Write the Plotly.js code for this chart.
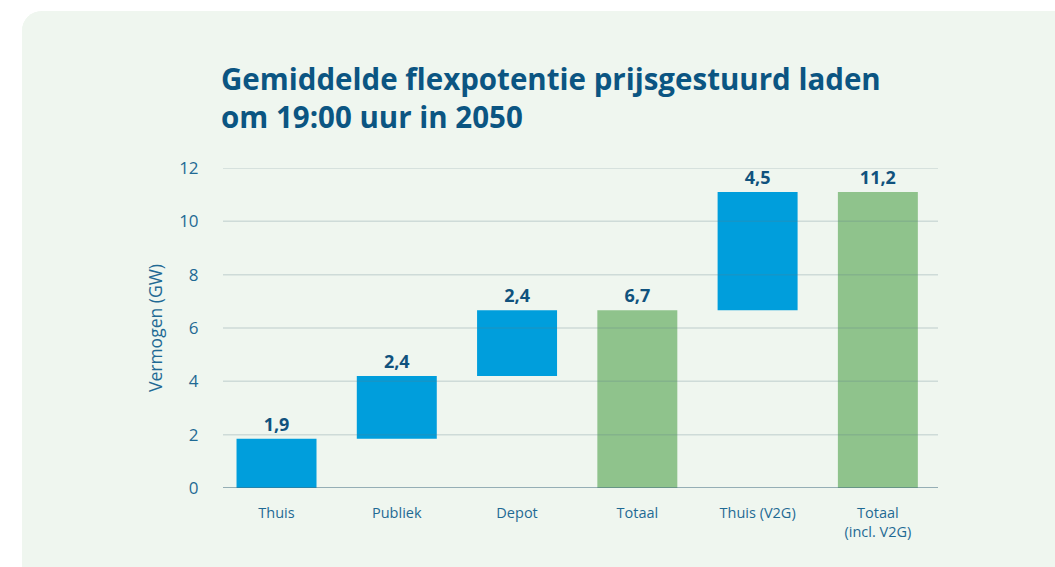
<!DOCTYPE html>
<html>
<head>
<meta charset="utf-8">
<script src="https://cdn.plot.ly/plotly-3.0.1.min.js"></script>
<style>
  html, body { margin:0; padding:0; background:#ffffff; width:1055px; height:567px; overflow:hidden; }
  #panel { position:absolute; left:22px; top:11px; width:1060px; height:580px; border-radius:20px; background:#eff6ef; overflow:hidden; }
  #chart { position:absolute; left:0; top:0; width:1033px; height:556px; }
</style>
</head>
<body>
<div id="panel"><div id="chart"></div></div>
<script>
const categories = ['Thuis', 'Publiek', 'Depot', 'Totaal', 'Thuis (V2G)', 'Totaal<br>(incl. V2G)'];
const measures = ['relative', 'relative', 'relative', 'total', 'relative', 'total'];
const values = [1.85, 2.35, 2.47, 0, 4.43, 0];
const valueLabels = ['1,9', '2,4', '2,4', '6,7', '4,5', '11,2'];
const yTicks = [0, 2, 4, 6, 8, 10, 12];

const gridShapes = yTicks.filter(v => v > 0).map(v => ({
  type: 'line', xref: 'paper', yref: 'y', x0: 0, x1: 1, y0: v, y1: v,
  layer: 'above', line: { color: 'rgba(90,125,135,0.22)', width: 1.5 }
}));
gridShapes.push({
  type: 'line', xref: 'paper', yref: 'y', x0: 0, x1: 1, y0: 0, y1: 0,
  layer: 'above', line: { color: 'rgba(70,110,130,0.7)', width: 1.5 }
});

const trace = {
  type: 'waterfall',
  x: categories,
  y: values,
  measure: measures,
  text: valueLabels,
  textposition: 'outside',
  textfont: { family: 'Open Sans, sans-serif', size: 18, color: '#10527d', weight: 700 },
  cliponaxis: false,
  connector: { visible: false },
  increasing: { marker: { color: '#009edc' } },
  decreasing: { marker: { color: '#009edc' } },
  totals: { marker: { color: '#8fc38c' } },
  hoverinfo: 'none'
};

const layout = {
  width: 1033, height: 556,
  margin: { l: 201, r: 117, t: 157, b: 79 },
  paper_bgcolor: '#eff6ef',
  plot_bgcolor: '#eff6ef',
  showlegend: false,
  waterfallgap: 0.335,
  font: { family: 'Open Sans, sans-serif', color: '#1f6a94' },
  title: {
    text: '<b>Gemiddelde flexpotentie prijsgestuurd laden<br>om 19:00 uur in 2050</b>',
    xref: 'container', yref: 'container',
    x: 199 / 1033, xanchor: 'left',
    y: 1 - 79 / 556, yanchor: 'top',
    font: { family: 'Open Sans, sans-serif', size: 29.5, color: '#0b5582' }
  },
  xaxis: {
    type: 'category',
    range: [-0.445, 5.5],
    showgrid: false, showline: false, zeroline: false,
    tickfont: { size: 14.5, color: '#1f6a94' },
    ticks: 'outside', ticklen: 12, tickcolor: 'rgba(0,0,0,0)'
  },
  yaxis: {
    range: [0, 12],
    tickvals: yTicks,
    ticktext: yTicks.map(String),
    showgrid: false, zeroline: false, showline: false,
    tickfont: { size: 17, color: '#1f6a94' },
    ticks: 'outside', ticklen: 20, tickcolor: 'rgba(0,0,0,0)',
    title: { text: 'Vermogen (GW)', font: { size: 17.5, color: '#1f6a94' }, standoff: 12 }
  },
  shapes: gridShapes
};

Plotly.newPlot('chart', [trace], layout, { displayModeBar: false, staticPlot: true });
</script>
</body>
</html>
